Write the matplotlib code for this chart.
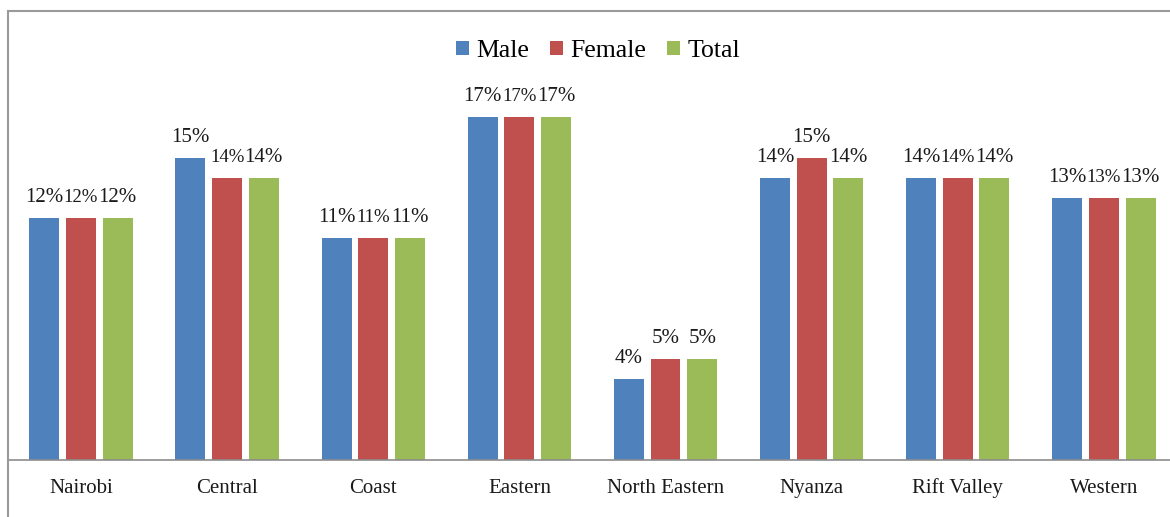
import numpy as np
import matplotlib.pyplot as plt
from matplotlib.patches import Rectangle

regions = ['Nairobi', 'Central', 'Coast', 'Eastern', 'North Eastern', 'Nyanza', 'Rift Valley', 'Western']
male = [12, 15, 11, 17, 4, 14, 14, 13]
female = [12, 14, 11, 17, 5, 15, 14, 13]
total = [12, 14, 11, 17, 5, 14, 14, 13]
series = ['Male', 'Female', 'Total']
colors = ['#4F81BD', '#C0504D', '#9BBB59']
# groups where the middle label got squeezed (smaller text)
squeezed = [True, True, True, True, False, False, True, True]

plt.rcParams['font.family'] = ['Liberation Serif', 'DejaVu Serif']

fig = plt.figure(figsize=(11.7, 5.17), dpi=100)
ax = fig.add_axes([7.9 / 1170, 57 / 517, 1169.1 / 1170, (460 - 16.7) / 517])

x = np.arange(len(regions))
step = 0.251
w = 0.205
for i, (vals, c, name) in enumerate(zip([male, female, total], colors, series)):
    pos = x + (i - 1) * step
    bars = ax.bar(pos, vals, width=w, color=c, label=name, zorder=2)
    for j, (b, v) in enumerate(zip(bars, vals)):
        fs = 13.5 if (i == 1 and squeezed[j]) else 15
        ax.annotate(f'{v}%', (b.get_x() + b.get_width() / 2, v),
                    xytext=(0, 11.5), textcoords='offset points',
                    ha='center', va='baseline', fontsize=fs, color='#1a1a1a')

ax.set_xlim(-0.5, 7.5)
ax.set_ylim(0, 22)
ax.set_xticks(x)
ax.set_xticklabels(regions, fontsize=15)
for t in ax.get_xticklabels():
    t.set_verticalalignment('baseline')
ax.tick_params(axis='x', length=0, pad=23.5, colors='#1a1a1a')
ax.set_yticks([])
for s in ['top', 'right', 'left']:
    ax.spines[s].set_visible(False)
ax.spines['bottom'].set_color('#8c8c8c')
ax.spines['bottom'].set_linewidth(1.2)

fig.legend(loc='center', bbox_to_anchor=(598 / 1170, 1 - 51 / 517), ncol=3,
           frameon=False, fontsize=18.5, handlelength=0.5, handleheight=0.5,
           handletextpad=0.3, columnspacing=0.8)

# chart border
fig.patches.append(Rectangle((8 / 1170, -0.1), 2, 1.1 - 11 / 517,
                             transform=fig.transFigure, fill=False,
                             edgecolor='#9a9a9a', linewidth=1.5))

fig.savefig('out.png', dpi=100)
